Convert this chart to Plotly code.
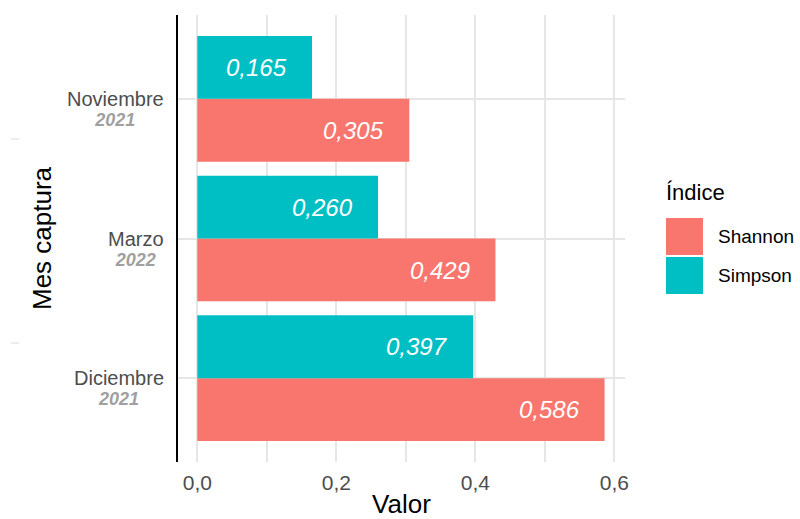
import plotly.graph_objects as go

categories = ["Diciembre", "Marzo", "Noviembre"]
years = ["2021", "2022", "2021"]
series_names = ["Shannon", "Simpson"]
shannon = [0.586, 0.429, 0.305]
simpson = [0.397, 0.260, 0.165]
x_ticks = [0.0, 0.2, 0.4, 0.6]
x_tick_labels = ["0,0", "0,2", "0,4", "0,6"]
colors = {"Shannon": "#F8766D", "Simpson": "#00BFC4"}

values = {"Shannon": shannon, "Simpson": simpson}
FONT = "Arial, Liberation Sans, sans-serif"
GRID = "#E6E6E6"

fig = go.Figure()
for name in series_names:
    fig.add_trace(go.Bar(
        y=categories, x=values[name], orientation="h", name=name,
        marker=dict(color=colors[name], line=dict(width=0)),
        showlegend=False,
    ))

annotations = []
shift = {"Shannon": -31.5, "Simpson": 31.5}
for name in series_names:
    for cat, v in zip(categories, values[name]):
        annotations.append(dict(
            x=v, y=cat, xref="x", yref="y",
            text="<i>" + f"{v:.3f}".replace(".", ",") + "</i>",
            showarrow=False, xanchor="right", yanchor="middle",
            xshift=-23, yshift=shift[name],
            font=dict(family=FONT, size=24, color="white"),
        ))

W, H, L, T = 447.0, 447.0, 178.0, 15.0
def px(x):
    return (x - L) / W
def py(y):
    return (T + H - y) / H

# category labels: month + centred grey bold-italic year
for c, y in zip(categories, years):
    annotations.append(dict(
        x=px(166), y=c, xref="paper", yref="y",
        text=(f"<span style='font-size:20px;color:#4D4D4D'>{c}</span><br>"
              f"<span style='font-size:18px;color:#A0A0A0'><b><i>{y}</i></b></span>"),
        showarrow=False, xanchor="right", yanchor="middle", align="center",
        yshift=-10, font=dict(family=FONT, size=15, color="#4D4D4D"),
    ))

# custom legend (ggplot-style large keys)
annotations.append(dict(x=px(664), y=py(192), xref="paper", yref="paper", text="Índice",
                        showarrow=False, xanchor="left", yanchor="middle",
                        font=dict(family=FONT, size=22, color="black")))
shapes = []
key_tops = [218, 257]
for name, top in zip(series_names, key_tops):
    shapes.append(dict(type="rect", xref="paper", yref="paper",
                       x0=px(666), x1=px(703), y0=py(top + 37), y1=py(top),
                       fillcolor=colors[name], line=dict(width=0)))
    annotations.append(dict(x=px(716), y=py(top + 19), xref="paper", yref="paper", text=name,
                            showarrow=False, xanchor="left", yanchor="middle",
                            font=dict(family=FONT, size=19, color="black")))
# faint marks at left edge
for yy in [139, 343]:
    shapes.append(dict(type="line", xref="paper", yref="paper",
                       x0=px(11), x1=px(19), y0=py(yy), y1=py(yy),
                       line=dict(color="#E6E6E6", width=1.5)))

fig.update_layout(
    width=800, height=519,
    barmode="group", bargap=0.1, bargroupgap=0,
    plot_bgcolor="white", paper_bgcolor="white",
    margin=dict(l=178, r=175, t=15, b=57),
    separators=",.",
    font=dict(family=FONT, color="#4D4D4D"),
    xaxis=dict(
        range=[-0.0278, 0.6154], tickvals=x_ticks, ticktext=x_tick_labels,
        showgrid=True, gridcolor=GRID, gridwidth=1.6, zeroline=False,
        minor=dict(dtick=0.1, tick0=0, showgrid=True, gridcolor=GRID, gridwidth=1.6),
        tickfont=dict(size=21, color="#4D4D4D"), ticks="",
        ticklabelstandoff=6, automargin=False,
        title=dict(text="Valor", font=dict(size=26, color="black"), standoff=8),
        showline=False,
    ),
    yaxis=dict(
        categoryorder="array", categoryarray=categories,
        range=[-0.6, 2.6], tickvals=categories, showticklabels=False,
        showgrid=True, gridcolor=GRID, gridwidth=1.6, zeroline=False,
        ticks="", automargin=False,
        showline=True, linecolor="black", linewidth=1.8,
        title=dict(text="Mes captura", font=dict(size=26, color="black"), standoff=117),
    ),
    annotations=annotations, shapes=shapes,
    showlegend=False,
)

fig.write_html("out.html", config={"displayModeBar": False},
               post_script="document.body.style.margin='0';")
